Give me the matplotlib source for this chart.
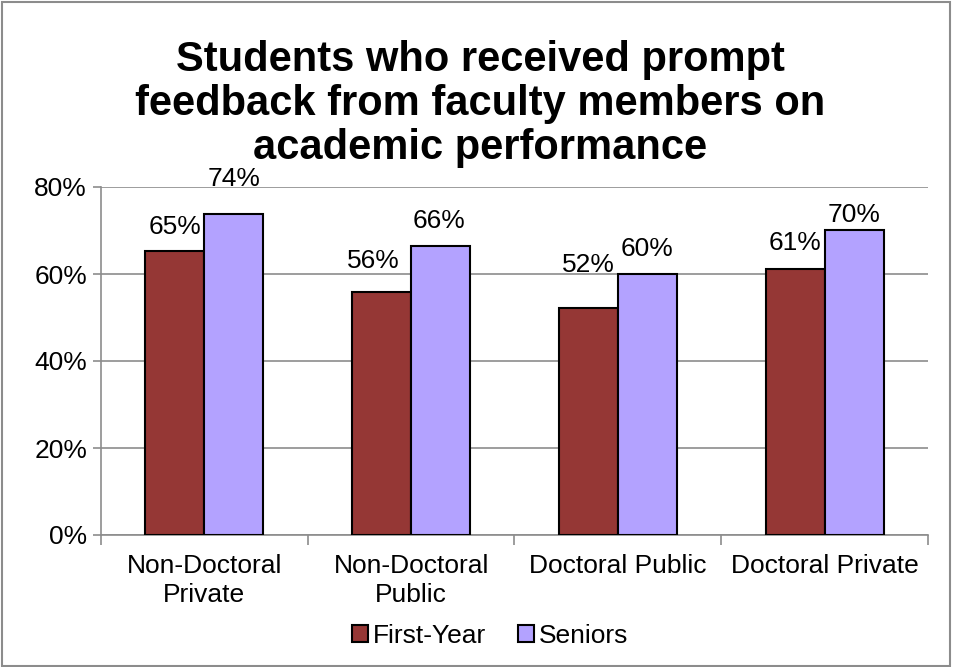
import matplotlib
matplotlib.use("Agg")
import matplotlib.pyplot as plt
from matplotlib.patches import Rectangle
import numpy as np

categories = ["Non-Doctoral\nPrivate", "Non-Doctoral\nPublic", "Doctoral Public", "Doctoral Private"]
first_year = [65.3, 55.9, 52.1, 61.1]
seniors = [73.9, 66.5, 60.0, 70.0]
series_names = ["First-Year", "Seniors"]
yticks = [0, 20, 40, 60, 80]

# label placement (pixels, layout only): baseline gap above bar top and horizontal shift
first_lbl_dy = [17, 24, 36, 19]
first_lbl_dx = [0, -8, 0, 0]
senior_lbl_dy = [28, 18, 18, 8]
senior_lbl_dx = [0, -2, 0, 0]

plt.rcParams['font.family'] = ['Liberation Sans', 'DejaVu Sans']

W, H = 954, 667
fig = plt.figure(figsize=(W/100, H/100), dpi=100)
ax = fig.add_axes([101/W, 1-535/H, (928-101)/W, (535-187)/H])

x = np.arange(len(categories))
bw = 0.285
red = "#953735"
purple = "#B3A2FF"
b1 = ax.bar(x - bw/2, first_year, bw, color=red, edgecolor="black", linewidth=1.5, label=series_names[0], zorder=3)
b2 = ax.bar(x + bw/2, seniors, bw, color=purple, edgecolor="black", linewidth=1.5, label=series_names[1], zorder=3)

px2pt = 0.72
for bars, vals, dys, dxs in ((b1, first_year, first_lbl_dy, first_lbl_dx),
                             (b2, seniors, senior_lbl_dy, senior_lbl_dx)):
    for r, v, dy, dx in zip(bars, vals, dys, dxs):
        ax.annotate(f"{v:.0f}%", (r.get_x() + r.get_width()/2, r.get_height()),
                    xytext=(dx*px2pt, dy*px2pt), textcoords="offset points", ha="center", va="baseline",
                    fontsize=19, zorder=4, annotation_clip=False)

ax.set_xlim(-0.5, len(categories) - 0.5)
ax.set_ylim(0, 80)
ax.set_yticks(yticks)
ax.set_yticklabels([f"{t}%" for t in yticks], fontsize=19)
ax.yaxis.grid(True, color="#8c8c8c", linewidth=1.2, zorder=0)
ax.set_axisbelow(True)

ax.set_xticks(x)
ax.set_xticklabels(categories, fontsize=19, linespacing=1.22)
ax.tick_params(axis="x", length=0, pad=14)
ax.set_xticks(np.arange(len(categories) + 1) - 0.5, minor=True)
ax.tick_params(axis="x", which="minor", length=7, width=1.2, color="#8c8c8c", direction="out")
ax.tick_params(axis="y", length=6, width=1.2, color="#8c8c8c", direction="out", pad=4)

for s in ["top", "right"]:
    ax.spines[s].set_visible(False)
for s in ["left", "bottom"]:
    ax.spines[s].set_color("#8c8c8c")
    ax.spines[s].set_linewidth(1.2)

fig.text(480/W, 1-104/H, "Students who received prompt\nfeedback from faculty members on\nacademic performance",
         ha="center", va="center", fontsize=30, fontweight="bold", linespacing=1.12)

leg = fig.legend(handles=[b1, b2], labels=series_names, loc="center", bbox_to_anchor=(490/W, 1-636/H),
                 ncol=2, frameon=False, fontsize=19, handlelength=0.6, handleheight=0.6,
                 handletextpad=0.2, columnspacing=1.2)

fig.patches.append(Rectangle((0.002, 0.002), 0.994, 0.995, transform=fig.transFigure,
                             fill=False, edgecolor="#8c8c8c", linewidth=1.5))

fig.savefig("out.png", dpi=100)
